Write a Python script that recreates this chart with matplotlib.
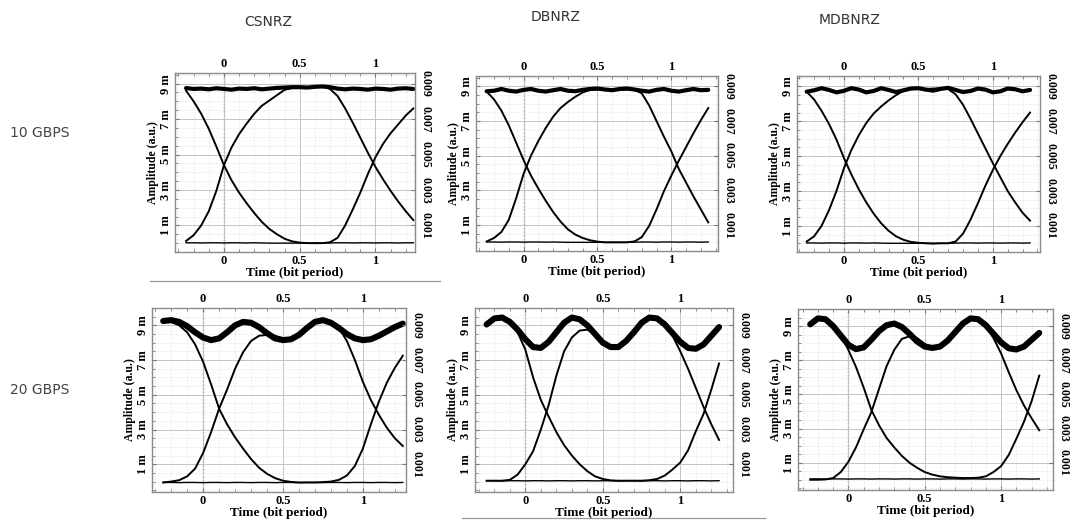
import matplotlib
matplotlib.use("Agg")
import matplotlib.pyplot as plt
from matplotlib.ticker import MultipleLocator
from matplotlib.lines import Line2D

# time axis (bit period), same sampling for every trace
T = [-0.25, -0.2, -0.15, -0.1, -0.05, 0.0, 0.05, 0.1, 0.15, 0.2, 0.25, 0.3, 0.35, 0.4, 0.45,
     0.5, 0.55, 0.6, 0.65, 0.7, 0.75, 0.8, 0.85, 0.9, 0.95, 1.0, 1.05, 1.1, 1.15, 1.2, 1.25]

schemes = ["CSNRZ", "DBNRZ", "MDBNRZ"]
rates = ["10 GBPS", "20 GBPS"]
y_ticks = [1, 3, 5, 7, 9]
left_labels = ["1 m", "3 m", "5 m", "7 m", "9 m"]
right_labels = ["0.001", "0.003", "0.005", "0.007", "0.009"]

# ---- 10 GBPS eye traces (mW) ----
# hh = 1-1-1, hl = 1-0-1, lh = 0-1-0, ll = 0-0-0
csnrz10_hh = [8.75, 8.70, 8.72, 8.68, 8.74, 8.70, 8.66, 8.72, 8.70, 8.74, 8.68, 8.72, 8.76, 8.78, 8.80, 8.80,
              8.78, 8.82, 8.84, 8.80, 8.72, 8.68, 8.72, 8.70, 8.66, 8.72, 8.70, 8.66, 8.72, 8.74, 8.70]
csnrz10_hl = [8.60, 8.00, 7.30, 6.45, 5.45, 4.40, 3.55, 2.85, 2.25, 1.70, 1.20, 0.80, 0.50, 0.25, 0.10, 0.03,
              0.00, 0.00, 0.00, 0.05, 0.30, 1.00, 1.90, 2.85, 3.90, 4.85, 5.60, 6.20, 6.70, 7.20, 7.60]
csnrz10_lh = [0.12, 0.45, 1.00, 1.80, 2.95, 4.40, 5.40, 6.15, 6.75, 7.30, 7.75, 8.05, 8.35, 8.65, 8.75, 8.78,
              8.80, 8.82, 8.85, 8.70, 8.30, 7.60, 6.80, 5.95, 5.10, 4.30, 3.60, 2.95, 2.35, 1.80, 1.30]
csnrz10_ll = [0.02, 0.02, 0.01, 0.02, 0.02, 0.01, 0.02, 0.02, 0.01, 0.02, 0.01, 0.00, 0.00, 0.00, 0.00, 0.00,
              0.00, 0.00, 0.00, 0.01, 0.02, 0.02, 0.01, 0.02, 0.02, 0.01, 0.02, 0.02, 0.01, 0.02, 0.02]

dbnrz10_hh = [8.72, 8.75, 8.85, 8.75, 8.70, 8.80, 8.85, 8.75, 8.70, 8.78, 8.85, 8.75, 8.72, 8.80, 8.85, 8.88,
              8.82, 8.78, 8.85, 8.88, 8.82, 8.75, 8.70, 8.80, 8.85, 8.75, 8.70, 8.78, 8.85, 8.78, 8.80]
dbnrz10_hl = [8.70, 8.25, 7.60, 6.75, 5.75, 4.75, 3.85, 3.10, 2.40, 1.75, 1.20, 0.75, 0.45, 0.25, 0.12, 0.04,
              0.00, 0.00, 0.00, 0.00, 0.05, 0.30, 0.95, 1.90, 2.95, 3.85, 4.70, 5.50, 6.30, 7.05, 7.75]
dbnrz10_lh = [0.05, 0.25, 0.60, 1.30, 2.55, 3.95, 5.00, 5.85, 6.60, 7.25, 7.75, 8.10, 8.40, 8.65, 8.80, 8.82,
              8.80, 8.78, 8.80, 8.82, 8.80, 8.60, 7.90, 7.00, 6.10, 5.25, 4.25, 3.45, 2.65, 1.90, 1.15]
dbnrz10_ll = [0.02, 0.02, 0.01, 0.02, 0.02, 0.01, 0.02, 0.02, 0.01, 0.02, 0.01, 0.00, 0.00, 0.00, 0.00, 0.00,
              0.00, 0.00, 0.00, 0.00, 0.01, 0.02, 0.02, 0.01, 0.02, 0.02, 0.01, 0.02, 0.02, 0.01, 0.02]

mdbnrz10_hh = [8.70, 8.78, 8.90, 8.80, 8.66, 8.75, 8.90, 8.82, 8.66, 8.74, 8.90, 8.80, 8.68, 8.78, 8.88, 8.90,
               8.82, 8.76, 8.86, 8.92, 8.80, 8.68, 8.74, 8.88, 8.82, 8.66, 8.72, 8.88, 8.84, 8.72, 8.80]
mdbnrz10_hl = [8.70, 8.25, 7.60, 6.85, 5.95, 4.90, 3.95, 3.10, 2.35, 1.70, 1.15, 0.72, 0.40, 0.20, 0.08, 0.03,
               0.00, -0.02, 0.00, 0.00, 0.10, 0.55, 1.35, 2.30, 3.30, 4.20, 5.00, 5.70, 6.35, 6.95, 7.50]
mdbnrz10_lh = [0.10, 0.40, 1.00, 1.90, 3.00, 4.30, 5.35, 6.20, 6.90, 7.45, 7.85, 8.20, 8.50, 8.75, 8.85, 8.85,
               8.85, 8.88, 8.90, 8.85, 8.55, 7.95, 7.15, 6.30, 5.45, 4.60, 3.80, 3.00, 2.35, 1.75, 1.30]
mdbnrz10_ll = [0.02, 0.02, 0.01, 0.02, 0.02, 0.01, 0.02, 0.02, 0.01, 0.02, 0.01, 0.00, 0.00, 0.00, 0.00, 0.00,
               0.00, 0.00, 0.00, 0.00, 0.01, 0.02, 0.02, 0.01, 0.02, 0.02, 0.01, 0.02, 0.02, 0.01, 0.02]

# ---- 20 GBPS eye traces (mW) ----
csnrz20_hh = [9.25, 9.30, 9.20, 8.95, 8.60, 8.30, 8.15, 8.25, 8.60, 9.00, 9.20, 9.15, 8.90, 8.55, 8.25, 8.15,
              8.20, 8.45, 8.85, 9.20, 9.30, 9.15, 8.85, 8.50, 8.25, 8.15, 8.20, 8.40, 8.65, 8.90, 9.10]
csnrz20_hl = [9.25, 9.20, 9.00, 8.60, 7.90, 6.90, 5.60, 4.20, 3.30, 2.55, 1.90, 1.30, 0.80, 0.45, 0.20, 0.05,
              -0.02, -0.05, -0.05, -0.05, -0.03, 0.00, 0.10, 0.35, 0.90, 1.90, 3.30, 4.60, 5.70, 6.55, 7.25]
csnrz20_lh = [-0.05, 0.00, 0.08, 0.30, 0.75, 1.65, 2.85, 4.20, 5.30, 6.50, 7.45, 8.10, 8.40, 8.45, 8.40, 8.25,
              8.20, 8.45, 8.85, 9.20, 9.30, 9.20, 8.85, 8.10, 7.00, 5.75, 4.70, 3.85, 3.10, 2.50, 2.05]
csnrz20_ll = [-0.05, -0.05, -0.06, -0.05, -0.05, -0.06, -0.05, -0.05, -0.06, -0.05, -0.05, -0.06, -0.05, -0.05,
              -0.06, -0.05, -0.05, -0.06, -0.05, -0.05, -0.06, -0.05, -0.05, -0.06, -0.05, -0.05, -0.06, -0.05,
              -0.05, -0.06, -0.05]

dbnrz20_hh = [9.05, 9.40, 9.45, 9.20, 8.75, 8.20, 7.75, 7.70, 8.05, 8.60, 9.15, 9.45, 9.35, 9.00, 8.50, 8.00,
              7.75, 7.75, 8.10, 8.60, 9.15, 9.45, 9.40, 9.05, 8.55, 8.05, 7.70, 7.65, 7.90, 8.40, 8.90]
dbnrz20_hl = [9.05, 9.40, 9.45, 9.20, 8.60, 7.60, 6.00, 4.70, 3.75, 2.85, 2.10, 1.50, 1.00, 0.60, 0.30, 0.15,
              0.07, 0.05, 0.05, 0.05, 0.05, 0.08, 0.15, 0.35, 0.70, 1.10, 1.80, 2.90, 3.90, 5.30, 6.80]
dbnrz20_lh = [0.05, 0.05, 0.05, 0.10, 0.40, 1.00, 1.75, 3.00, 4.40, 6.10, 7.50, 8.30, 8.70, 8.75, 8.50, 8.00,
              7.75, 7.75, 8.10, 8.60, 9.15, 9.45, 9.40, 9.05, 8.40, 7.50, 6.50, 5.40, 4.30, 3.30, 2.40]
dbnrz20_ll = [0.05, 0.05, 0.04, 0.05, 0.05, 0.04, 0.05, 0.05, 0.04, 0.05, 0.05, 0.04, 0.05, 0.05, 0.04, 0.05,
              0.05, 0.04, 0.05, 0.05, 0.04, 0.05, 0.05, 0.04, 0.05, 0.05, 0.04, 0.05, 0.05, 0.04, 0.05]

mdbnrz20_hh = [9.10, 9.45, 9.40, 9.00, 8.45, 7.90, 7.65, 7.75, 8.20, 8.70, 9.05, 9.15, 8.95, 8.55, 8.10, 7.80,
               7.72, 7.80, 8.15, 8.65, 9.15, 9.45, 9.40, 9.05, 8.55, 8.05, 7.70, 7.63, 7.80, 8.20, 8.60]
mdbnrz20_hl = [9.10, 9.45, 9.40, 9.00, 8.50, 7.60, 6.60, 5.40, 4.10, 3.20, 2.45, 1.90, 1.40, 1.00, 0.70, 0.45,
               0.30, 0.20, 0.15, 0.12, 0.10, 0.10, 0.12, 0.20, 0.45, 0.80, 1.45, 2.40, 3.40, 4.60, 6.10]
mdbnrz20_lh = [0.00, 0.00, 0.02, 0.10, 0.45, 1.05, 1.90, 2.95, 3.95, 5.30, 6.65, 7.60, 8.25, 8.40, 8.30, 7.95,
               7.75, 7.80, 8.15, 8.65, 9.15, 9.45, 9.40, 9.00, 8.30, 7.40, 6.30, 5.25, 4.35, 3.60, 2.90]
mdbnrz20_ll = [0.05, 0.05, 0.04, 0.05, 0.05, 0.04, 0.05, 0.05, 0.04, 0.05, 0.05, 0.04, 0.05, 0.05, 0.04, 0.05,
               0.05, 0.04, 0.05, 0.05, 0.04, 0.05, 0.05, 0.04, 0.05, 0.05, 0.04, 0.05, 0.05, 0.04, 0.05]

panels = [
    [(csnrz10_hh, csnrz10_hl, csnrz10_lh, csnrz10_ll),
     (dbnrz10_hh, dbnrz10_hl, dbnrz10_lh, dbnrz10_ll),
     (mdbnrz10_hh, mdbnrz10_hl, mdbnrz10_lh, mdbnrz10_ll)],
    [(csnrz20_hh, csnrz20_hl, csnrz20_lh, csnrz20_ll),
     (dbnrz20_hh, dbnrz20_hl, dbnrz20_lh, dbnrz20_ll),
     (mdbnrz20_hh, mdbnrz20_hl, mdbnrz20_lh, mdbnrz20_ll)],
]

# axes boxes in figure pixels (x0, y_top, x1, y_bottom) and x-limits
W, H = 1071, 523
boxes = [
    [(175, 73, 415, 252), (476, 76, 718, 251), (797, 76, 1040, 252)],
    [(152, 308, 406, 492), (475, 308, 733, 492), (798, 309, 1053, 490)],
]
xlims = [
    [(-0.323, 1.261), (-0.322, 1.316), (-0.315, 1.317)],
    [(-0.32, 1.27), (-0.325, 1.34), (-0.33, 1.34)],
]
ylims = [(-0.5, 9.6), (-0.6, 10.0)]
thick = [3.0, 4.4]

serif = "Liberation Serif"

fig = plt.figure(figsize=(W / 100, H / 100), dpi=100)
fig.patch.set_facecolor("white")

for r in range(2):
    for c in range(3):
        x0, yt, x1, yb = boxes[r][c]
        ax = fig.add_axes([x0 / W, 1 - yb / H, (x1 - x0) / W, (yb - yt) / H])
        hh, hl, lh, ll = panels[r][c]

        ax.plot(T, ll, color="black", lw=1.0)
        ax.plot(T, hl, color="black", lw=1.4)
        ax.plot(T, lh, color="black", lw=1.4)
        ax.plot(T, hh, color="black", lw=thick[r], solid_capstyle="round")

        ax.set_xlim(*xlims[r][c])
        ax.set_ylim(*ylims[r])
        ax.axvline(0, color="#666666", ls=":", lw=1.0, zorder=0)

        ax.set_xticks([0, 0.5, 1])
        ax.set_xticklabels(["0", "0.5", "1"])
        ax.xaxis.set_minor_locator(MultipleLocator(0.1))
        ax.set_yticks(y_ticks)
        ax.set_yticklabels(left_labels, rotation=90, va="center")
        ax.yaxis.set_minor_locator(MultipleLocator(0.5))
        ax.grid(which="major", color="#c4c4c4", lw=0.7)
        ax.grid(which="minor", color="#d6d6d6", lw=0.5, ls=":")
        ax.set_axisbelow(True)
        ax.tick_params(which="both", direction="in", top=True, labeltop=True,
                       labelsize=9, pad=2, color="#777777")
        ax.tick_params(which="minor", length=2)
        ax.tick_params(which="major", length=3)
        for lab in ax.get_xticklabels() + ax.get_yticklabels():
            lab.set_fontfamily(serif)
            lab.set_fontweight("bold")
        for s in ax.spines.values():
            s.set_color("#8a8a8a")
            s.set_linewidth(1.0)

        ax.set_xlabel("Time (bit period)", fontfamily=serif, fontweight="bold",
                      fontsize=9.5, labelpad=0)
        ax.set_ylabel("Amplitude (a.u.)", fontfamily=serif, fontweight="bold",
                      fontsize=8.5, labelpad=1)

        ax2 = ax.twinx()
        ax2.set_ylim(*ylims[r])
        ax2.set_yticks(y_ticks)
        ax2.set_yticklabels(right_labels, rotation=270, va="center",
                            fontfamily=serif, fontweight="bold", fontsize=8.5)
        ax2.tick_params(direction="in", length=3, pad=3, color="#777777")
        for s in ax2.spines.values():
            s.set_visible(False)

# column titles and row labels
title_x = [268, 556, 850]
title_y = [22, 17, 20]
for name, tx, ty in zip(schemes, title_x, title_y):
    fig.text(tx / W, 1 - ty / H, name, ha="center", va="center",
             fontsize=10, color="#333333", family="DejaVu Sans")

row_y = [133, 390]
for lab, ry in zip(rates, row_y):
    fig.text(10 / W, 1 - ry / H, lab, ha="left", va="center",
             fontsize=10, color="#444444", family="DejaVu Sans")

# stray rule lines from the scanned source
fig.add_artist(Line2D([150 / W, 440 / W], [1 - 281 / H, 1 - 281 / H], color="#9a9a9a", lw=0.9))
fig.add_artist(Line2D([462 / W, 765 / W], [1 - 518 / H, 1 - 518 / H], color="#9a9a9a", lw=0.9))

fig.savefig("out.png", dpi=100, facecolor="white")
